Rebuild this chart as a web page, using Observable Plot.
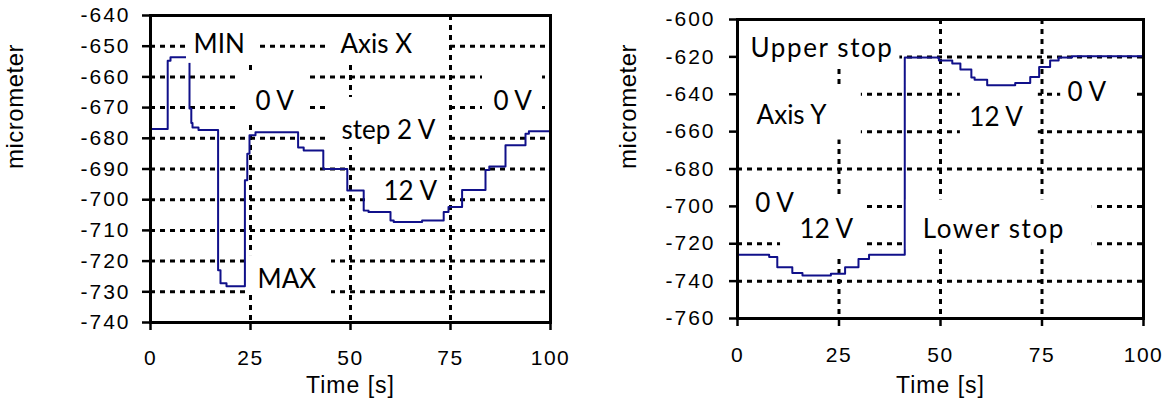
<!DOCTYPE html>
<html>
<head>
<meta charset="utf-8">
<script src="https://cdn.jsdelivr.net/npm/d3@7"></script>
<script src="https://cdn.jsdelivr.net/npm/@observablehq/plot@0.6"></script>
<style>
  html, body { margin: 0; padding: 0; background: #fff; }
  #wrap { display: flex; width: 1166px; height: 399px; }
  #wrap svg { display: block; }
</style>
</head>
<body>
<div id="wrap"></div>
<script>
// ---- Data ----
const xTicks = [0, 25, 50, 75, 100];
const xGrid = [25, 50, 75];

// Left chart: Axis X
const leftTime = [0, 4.3, 5.0, 9.75, 10.2, 10.5, 12, 16.9, 17.5, 19, 23.6, 24.2, 24.75, 26.25, 36.9, 38.3, 43.2, 49.2, 53.3, 54.5, 60, 60.8, 67.9, 73.3, 74.5, 77.9, 83.75, 84.7, 88.75, 93.75, 94.6, 100];
const leftPos  = [-677, -654.7, -653.6, -670.3, -675, -676.5, -677.3, -723, -727.2, -728.2, -693.7, -685, -679, -678, -683, -684, -690, -697, -703.5, -704, -706.8, -707.3, -706.8, -704, -702.4, -696.8, -690.3, -689.2, -682.3, -678.5, -677.7, -677.7];
const leftYTicks = [-640, -650, -660, -670, -680, -690, -700, -710, -720, -730, -740];

// Right chart: Axis Y
const rightTime = [0, 7.8, 9.8, 13.5, 16, 23, 26.5, 29.8, 32.4, 41.2, 49.6, 52.9, 54.9, 57.6, 58.4, 61.5, 68.4, 72.1, 74.3, 77, 79.1, 82.4, 100];
const rightPos  = [-725.9, -727.1, -732.6, -735.6, -737, -736, -732.6, -728.2, -725.9, -620.4, -621.9, -623.6, -626.8, -631.1, -632.2, -635.2, -634, -630.8, -625.4, -621.9, -620.4, -619.7, -619.7];
const rightYTicks = [-600, -620, -640, -660, -680, -700, -720, -740, -760];

// Annotations (text and their white label boxes), in data units
const leftLabels = [
  {text: "MIN", x: 10.75, y: -649.6},
  {text: "Axis X", x: 47.5, y: -649.6},
  {text: "0 V", x: 26.25, y: -668},
  {text: "0 V", x: 85.75, y: -668},
  {text: "step 2 V", x: 47.75, y: -677.5},
  {text: "12 V", x: 58.25, y: -697.3},
  {text: "MAX", x: 26.75, y: -726}
];
const leftBoxes = [
  {x1: 9, x2: 27, y1: -640, y2: -655.6},
  {x1: 44.5, x2: 74.25, y1: -640, y2: -655.3},
  {x1: 22.5, x2: 40, y1: -658.3, y2: -675.8},
  {x1: 83, x2: 98, y1: -658.3, y2: -674.9},
  {x1: 44.25, x2: 74.5, y1: -666.7, y2: -683},
  {x1: 53.75, x2: 74.25, y1: -692.1, y2: -703.3},
  {x1: 24, x2: 45.25, y1: -718.2, y2: -731.2}
];
const rightLabels = [
  {text: "Upper stop", x: 3.2, y: -615.5},
  {text: "Axis Y", x: 4.7, y: -651.5},
  {text: "0 V", x: 4.4, y: -698.7},
  {text: "12 V", x: 15.3, y: -712.3},
  {text: "Lower stop", x: 45.6, y: -712.3},
  {text: "12 V", x: 57.1, y: -652.5},
  {text: "0 V", x: 81.3, y: -639.2}
];
const rightBoxes = [
  {x1: 0, x2: 40, y1: -600, y2: -624.5},
  {x1: 0, x2: 30.5, y1: -635.7, y2: -664.5},
  {x1: 0, x2: 30.8, y1: -695.5, y2: -711.5},
  {x1: 10.6, x2: 30.8, y1: -704.5, y2: -725.9},
  {x1: 41.6, x2: 87.4, y1: -696.5, y2: -723.2},
  {x1: 54.9, x2: 74.1, y1: -636.8, y2: -664.5},
  {x1: 79.6, x2: 97.5, y1: -629.9, y2: -653.9}
];

function chart(o) {
  const data = o.time.map((t, i) => ({t, v: o.pos[i]}));
  const grid = {stroke: "black", strokeOpacity: 1, strokeWidth: 3, strokeDasharray: "5,5"};
  const svg = Plot.plot({
    width: 583,
    height: 399,
    marginLeft: o.ml, marginRight: o.mr, marginTop: o.mt, marginBottom: o.mb,
    style: {fontFamily: "'Liberation Sans', Arial, sans-serif", fontSize: "21px", color: "black", background: "white", overflow: "visible"},
    x: {domain: [0, 100]},
    y: {domain: [o.yTicks[o.yTicks.length - 1], o.yTicks[0]]},
    marks: [
      Plot.gridY(o.yTicks.slice(1, -1), grid),
      Plot.gridX(xGrid, grid),
      Plot.line(data, {x: "t", y: "v", curve: "step-after", stroke: "#10108a", strokeWidth: 2}),
      Plot.rect(o.boxes, {x1: "x1", x2: "x2", y1: "y1", y2: "y2", fill: "white"}),
      Plot.text(o.labels, {x: "x", y: "y", text: "text", textAnchor: "start", fontFamily: "Lato, 'Open Sans', sans-serif", fontSize: 26, fill: "black"}),
      Plot.frame({stroke: "black", strokeWidth: 3}),
      Plot.axisY(o.yTicks, {tickSize: 8, tickPadding: o.padY, strokeWidth: 2.5, label: null, tickFormat: d => String(d), fontSize: 21}),
      Plot.axisX(xTicks, {tickSize: 8, tickPadding: o.padX, strokeWidth: 2.5, label: null, tickFormat: d => String(d), fontSize: 21}),
      Plot.text(["micrometer"], {frameAnchor: "left", rotate: -90, dx: o.yLabelDx, lineAnchor: "middle", fontSize: 24}),
      Plot.text(["Time [s]"], {frameAnchor: "bottom", dy: o.xLabelDy, lineAnchor: "middle", fontSize: 23})
    ]
  });
  const s = d3.select(svg);
  s.selectAll('g[aria-label="y-axis tick label"] text').style("letter-spacing", "2px");
  s.selectAll('g[aria-label="x-axis tick label"] text').style("letter-spacing", "1.5px");
  s.selectAll("text").each(function () {
    const t = this.textContent;
    if (t === "Time [s]") this.style.letterSpacing = "1px";
    if (t === "micrometer") this.style.letterSpacing = "0.5px";
    if (t === "Upper stop" || t === "Lower stop") this.style.letterSpacing = "1.6px";
  });
  return svg;
}

const wrap = document.getElementById("wrap");
wrap.appendChild(chart({
  time: leftTime, pos: leftPos, yTicks: leftYTicks, labels: leftLabels, boxes: leftBoxes,
  ml: 150, mr: 33, mt: 15, mb: 77, padY: 12, padX: 20, yLabelDx: -135, xLabelDy: 63
}));
wrap.appendChild(chart({
  time: rightTime, pos: rightPos, yTicks: rightYTicks, labels: rightLabels, boxes: rightBoxes,
  ml: 154, mr: 23, mt: 19, mb: 81, padY: 14, padX: 21, yLabelDx: -109, xLabelDy: 67
}));
</script>
</body>
</html>
